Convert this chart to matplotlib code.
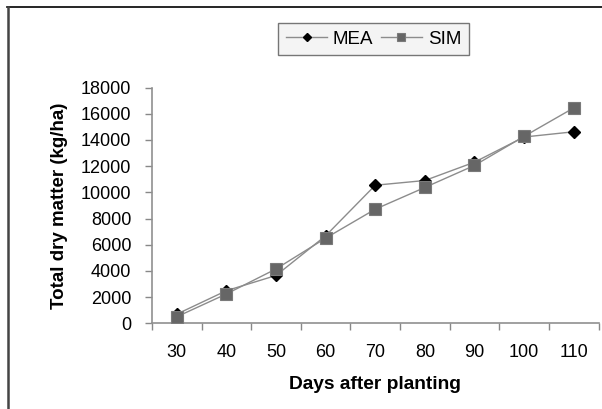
import numpy as np
import matplotlib
matplotlib.use("Agg")
import matplotlib.pyplot as plt
from matplotlib.lines import Line2D

plt.rcParams['font.family'] = ['Liberation Sans', 'DejaVu Sans']

days = ['30', '40', '50', '60', '70', '80', '90', '100', '110']
mea = [700, 2490, 3650, 6680, 10540, 10900, 12300, 14220, 14620]
sim = [500, 2240, 4150, 6500, 8710, 10370, 12050, 14270, 16440]
yticks = [0, 2000, 4000, 6000, 8000, 10000, 12000, 14000, 16000, 18000]

W, H = 602, 409
fig = plt.figure(figsize=(W / 100, H / 100), dpi=100)
ax = fig.add_axes([152 / W, 1 - 323.3 / H, (598.5 - 152) / W, (323.3 - 87.5) / H])

x = np.arange(1, len(days) + 1)
ax.plot(x, mea, color='#8c8c8c', lw=1.0, marker='D', ms=6.5,
        mfc='black', mec='black', label='MEA', zorder=3)
ax.plot(x, sim, color='#8c8c8c', lw=1.0, marker='s', ms=8,
        mfc='#666666', mec='#7a7a7a', mew=0.8, label='SIM', zorder=3)

ax.set_xlim(0.5, len(days) + 0.5)
ax.set_ylim(0, 18000)
ax.set_yticks(yticks)
ax.set_yticklabels([str(v) for v in yticks])

# ticks between categories, labels centred on categories
ax.set_xticks(np.arange(0.5, len(days) + 1, 1.0))
ax.set_xticklabels([])
ax.set_xticks(x, minor=True)
ax.set_xticklabels(days, minor=True)
ax.tick_params(axis='x', which='major', length=5, color='#888888', width=1)
ax.tick_params(axis='x', which='minor', length=0, pad=15, labelsize=13)
ax.tick_params(axis='y', length=5, color='#888888', width=1, pad=10, labelsize=13)

for s in ['top', 'right']:
    ax.spines[s].set_visible(False)
for s in ['left', 'bottom']:
    ax.spines[s].set_color('#909090')
    ax.spines[s].set_linewidth(1.2)

ax.set_xlabel('Days after planting', fontsize=13.8, fontweight='bold', labelpad=11)
ax.set_ylabel('Total dry matter (kg/ha)', fontsize=13.5, fontweight='bold', labelpad=9)

leg = fig.legend(loc='center', bbox_to_anchor=(373.5 / W, 1 - 39 / H), ncol=2,
                 fontsize=13.5, frameon=True, fancybox=False, markerscale=0.65,
                 handlelength=2.2, handletextpad=0.3, columnspacing=0.4,
                 borderpad=0.4)
leg.get_frame().set_facecolor('#f2f2f2')
leg.get_frame().set_edgecolor('#555555')
leg.get_frame().set_linewidth(1.0)

# outer frame (top and left edges)
fig.add_artist(Line2D([7 / W, 1], [1 - 7 / H, 1 - 7 / H], transform=fig.transFigure,
                      color='black', lw=1.2))
fig.add_artist(Line2D([8 / W, 8 / W], [0, 1 - 7 / H], transform=fig.transFigure,
                      color='#444444', lw=1.8))

fig.savefig('out.png', dpi=100)
